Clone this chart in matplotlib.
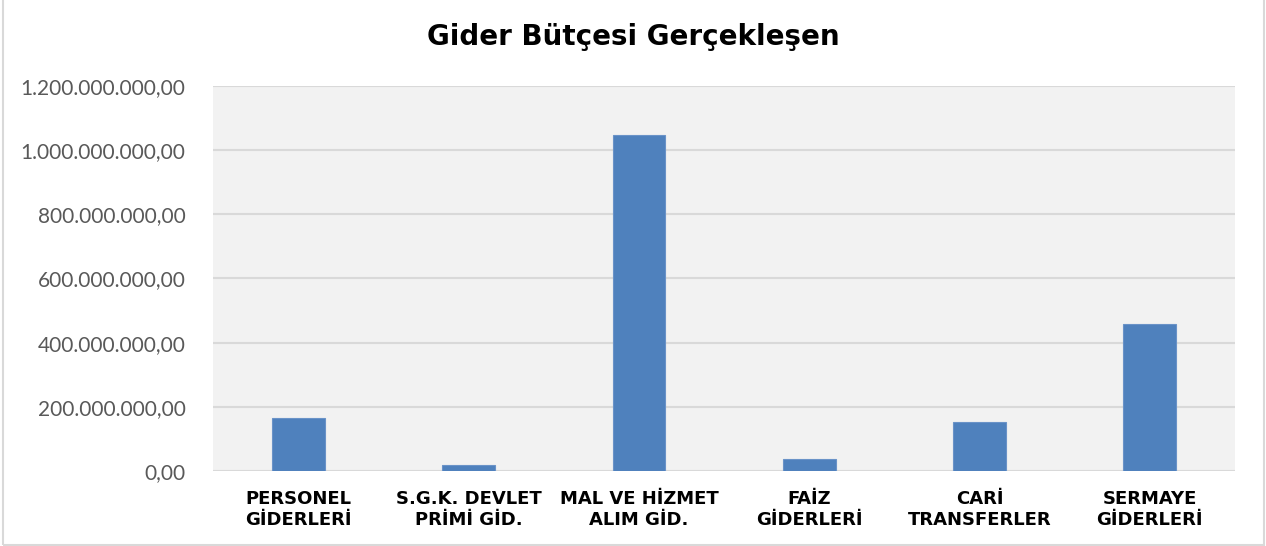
import matplotlib.pyplot as plt
from matplotlib.ticker import FuncFormatter, MultipleLocator

categories = ["PERSONEL\nGİDERLERİ", "S.G.K. DEVLET\nPRİMİ GİD.", "MAL VE HİZMET\nALIM GİD.",
              "FAİZ\nGİDERLERİ", "CARİ\nTRANSFERLER", "SERMAYE\nGİDERLERİ"]
values = [166_600_000, 17_800_000, 1_048_000_000, 38_700_000, 152_000_000, 457_600_000]
title = "Gider Bütçesi Gerçekleşen"


def tr_format(v, pos):
    s = f"{v:,.2f}"
    return s.replace(",", "X").replace(".", ",").replace("X", ".")


fig = plt.figure(figsize=(12.66, 5.46), dpi=100)
ax = fig.add_axes([0.1685, 0.1374, 0.8070, 0.7051])
ax.set_facecolor("#F2F2F2")

x = range(len(categories))
ax.bar(x, values, width=0.31, color="#4F81BD", edgecolor="#6A93C8", linewidth=0.8, zorder=3)

ax.set_xlim(-0.5, len(categories) - 0.5)
ax.set_ylim(0, 1_200_000_000)
ax.yaxis.set_major_locator(MultipleLocator(200_000_000))
ax.yaxis.set_major_formatter(FuncFormatter(tr_format))
ax.grid(axis="y", color="#D9D9D9", linewidth=1.5, zorder=1)
ax.set_axisbelow(True)

for side in ["top", "right", "left", "bottom"]:
    ax.spines[side].set_visible(False)

ax.set_xticks(list(x))
ax.set_xticklabels(categories, fontfamily="DejaVu Sans", fontweight="bold", fontsize=13, color="black")
ax.tick_params(axis="x", length=0, pad=14)
ax.tick_params(axis="y", length=0, pad=20, labelsize=15, labelcolor="#595959")
for lbl in ax.get_yticklabels():
    lbl.set_fontfamily("Lato")

fig.text(0.5, 0.932, title, ha="center", va="center", fontsize=20, fontweight="bold",
         fontfamily="DejaVu Sans", color="black")

# chart border
border = plt.Rectangle((0.0025, 0.002), 0.9960, 1.05, transform=fig.transFigure, fill=False,
                       edgecolor="#D9D9D9", linewidth=1.5)
fig.patches.append(border)

plt.savefig("out.png", dpi=100)
